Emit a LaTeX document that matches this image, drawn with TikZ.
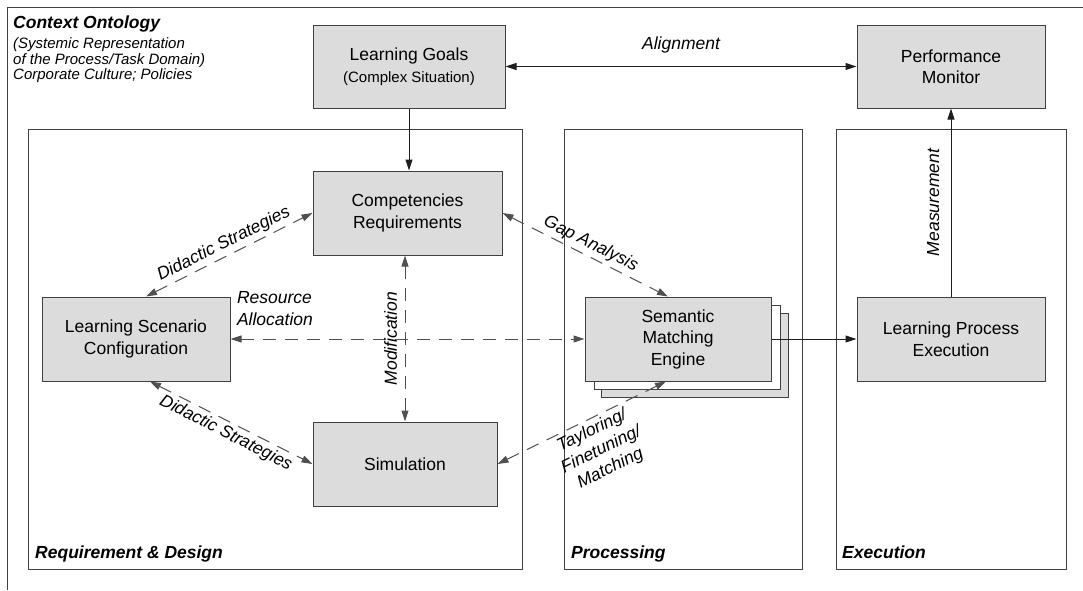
\documentclass[tikz,border=0pt]{standalone}
\usepackage{fontspec}
\setmainfont{Liberation Sans}
\usetikzlibrary{arrows.meta}
\definecolor{boxfill}{RGB}{220,220,220}
\definecolor{boxline}{RGB}{64,64,64}
\definecolor{dashcol}{RGB}{80,80,80}
\definecolor{linecol}{RGB}{30,30,30}
\newcommand\mainfs{\fontsize{17.5}{21.5}\selectfont}
\newcommand\smallfs{\fontsize{15}{16}\selectfont}
\newcommand\tayfs{\fontsize{17.5}{21}\selectfont}
\begin{document}
\begin{tikzpicture}[x=1pt,y=-1pt,
  >={Triangle[length=11pt,width=7pt]},
  box/.style={draw=boxline, fill=boxfill, line width=1pt, inner sep=0pt, align=center, font=\mainfs, text=black},
  frame/.style={draw=boxline, line width=1pt},
  conn/.style={draw=linecol, line width=1pt},
  dconn/.style={draw=dashcol, line width=1pt, dash pattern=on 13pt off 9pt},
  lbl/.style={font=\mainfs\itshape},
  ttl/.style={font=\mainfs\bfseries\itshape, inner sep=0pt, anchor=base west},
  ctxline/.style={font=\smallfs\itshape, inner sep=0pt, anchor=base west}
]
\useasboundingbox (0,0) rectangle (1083,590);
\fill[white] (0,0) rectangle (1083,590);

% outer frame (partly visible)
\draw[frame] (1083,7) -- (7,7) -- (7,590);

% context text
\node[ttl] (ctx) at (13,28) {Context Ontology};
\node[ctxline] (ctx1) at (13,48) {(Systemic Representation};
\node[ctxline] (ctx2) at (13,64) {of the Process/Task Domain)};
\node[ctxline] (ctx3) at (13,79) {Corporate Culture; Policies};

% phase frames
\draw[frame] (28.5,129) rectangle (522.5,569);
\draw[frame] (564,129) rectangle (802,569);
\draw[frame] (836,129) rectangle (1066,569);
\node[ttl] (rdl) at (35,558) {Requirement \& Design};
\node[ttl] (prl) at (571,558) {Processing};
\node[ttl] (exl) at (842,558) {Execution};

% boxes
\node[box, minimum width=192pt, minimum height=83pt] (lg) at (409,66.5)
  {{\mainfs Learning Goals}\\[1pt]{\smallfs (Complex Situation)}};
\node[box, minimum width=188pt, minimum height=83pt] (pm) at (951,66.5)
  {Performance\\Monitor};
\node[box, minimum width=189pt, minimum height=84pt] (cr) at (407.5,213)
  {Competencies\\Requirements};
\node[box, minimum width=188pt, minimum height=84pt] (lsc) at (136,339)
  {Learning Scenario\\Configuration};
\node[box, minimum width=184pt, minimum height=84pt] (sim) at (405,464)
  {Simulation};
\node[box, minimum width=187pt, minimum height=84pt] (sh2) at (694.5,355) {};
\node[box, fill=white, minimum width=186pt, minimum height=84pt] (sh1) at (687,347) {};
\node[box, minimum width=186pt, minimum height=84pt] (sme) at (678,339)
  {Semantic\\Matching\\Engine};
\node[box, minimum width=188pt, minimum height=84pt] (lpe) at (951,339)
  {Learning Process\\Execution};

% solid connectors
\draw[conn, ->] (lg.south) -- (lg.south |- cr.north);
\draw[conn, <->] (lg.east) -- node[lbl, above=10pt] (al) {Alignment} (pm.west);
\draw[conn, ->] (lpe.north) -- node[lbl, sloped, above=8pt] (ml) {Measurement} (pm.south);
\draw[conn, ->] (sme.east) -- (lpe.west);

% dashed connectors
\draw[dconn, <->] (lsc.east) -- node[pos=0, lbl, anchor=south west, inner sep=0pt, xshift=6pt, yshift=13pt, align=left] (ral) {Resource\\Allocation} (sme.west);
\draw[dconn, <->] (sim.north) -- node[lbl, sloped, above=4pt] (mol) {Modification} (sim.north |- cr.south);
\draw[dconn, <->] ([xshift=10pt]lsc.north) -- node[lbl, sloped, above] (dsu) {Didactic Strategies} (cr.west);
\draw[dconn, <->] ([xshift=14pt]lsc.south) -- node[lbl, sloped, below] (dsl) {Didactic Strategies} (sim.west);
\draw[dconn, <->] (cr.east) -- node[lbl, sloped, above] (gal) {Gap Analysis} ([xshift=-10pt]sme.north);
\draw[dconn, <->] (sim.east) -- node[font=\tayfs\itshape, sloped, below, align=center, pos=0.53] (tfl) {Tayloring/\\Finetuning/\\Matching} ([xshift=-12pt]sme.south);
\end{tikzpicture}
\end{document}
